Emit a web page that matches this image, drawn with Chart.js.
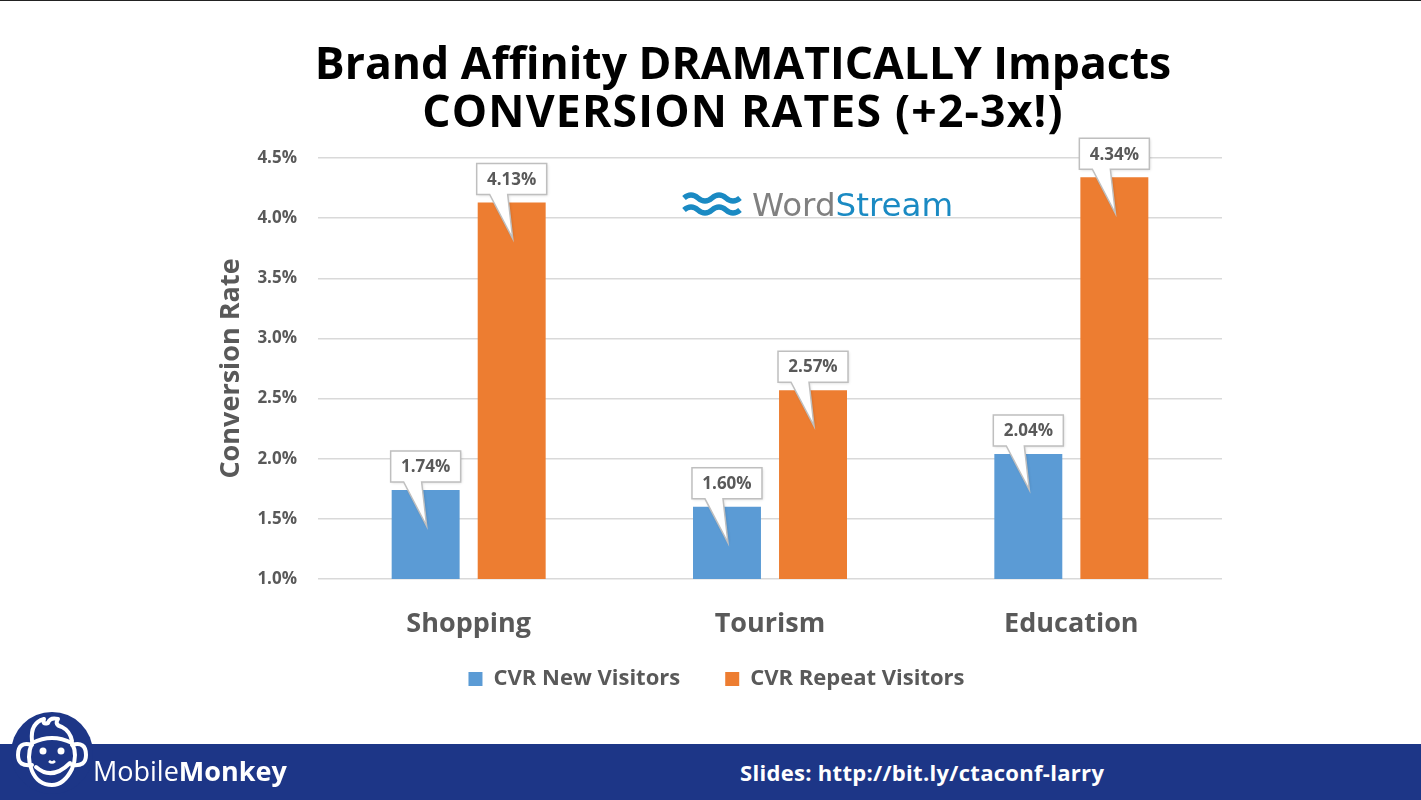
<!DOCTYPE html>
<html>
<head>
<meta charset="utf-8">
<script src="https://cdn.jsdelivr.net/npm/chart.js@4"></script>
<style>
  html, body { margin: 0; padding: 0; background: #fff; }
  #wrap { position: relative; width: 1421px; height: 800px; overflow: hidden; background: #fff; border-top: 1px solid #222; box-sizing: border-box; }
  #chartBox { position: absolute; left: 0; top: 0; width: 1421px; height: 743px; }
  #title { position: absolute; left: 0; top: 37px; width: 1486px; text-align: center;
           font-family: "Open Sans", sans-serif; font-weight: 700; font-size: 44.5px; line-height: 48px; color: #000; }
  #title .l2 { letter-spacing: 1.2px; }
  #ws { position: absolute; left: 682px; top: 186px; height: 36px; display: flex; align-items: center; }
  #ws .txt { font-family: "DejaVu Sans", sans-serif; font-size: 32.5px; margin-left: 10px; letter-spacing: 0px; }
  #footer { position: absolute; left: 0; top: 743px; width: 1421px; height: 57px; background: #1d3687; }
  #mm { position: absolute; left: 93px; top: 752px; font-family: "Open Sans", sans-serif; font-size: 27px; color: #fff; line-height: 36px; }
  #slides { position: absolute; left: 740px; top: 754px; font-family: "Open Sans", sans-serif; font-weight: 700; font-size: 22px; color: #fff; line-height: 34px; letter-spacing: 0.3px; }
  #monkey { position: absolute; left: 10px; top: 710px; }
</style>
</head>
<body>
<div id="wrap">
  <div id="chartBox"><canvas id="c" width="1421" height="743"></canvas></div>
  <div id="title">Brand Affinity DRAMATICALLY Impacts<br><span class="l2">CONVERSION RATES (+2-3x!)</span></div>
  <div id="ws">
    <svg width="60" height="28" viewBox="0 0 60 28">
      <path d="M2 7 Q9 1 16 7 T30 7 T44 7 T58 7" fill="none" stroke="#1a8ac3" stroke-width="5.5" stroke-linecap="butt"/>
      <path d="M2 19 Q9 13 16 19 T30 19 T44 19 T58 19" fill="none" stroke="#1a8ac3" stroke-width="5.5" stroke-linecap="butt"/>
    </svg>
    <span class="txt"><span style="color:#808080">Word</span><span style="color:#1a8ac3">Stream</span></span>
  </div>
  <div id="footer"></div>
  <svg id="monkey" width="84" height="84" viewBox="0 0 84 84">
    <circle cx="42" cy="42" r="41" fill="#1d3687"/>
    <g fill="none" stroke="#fff" stroke-width="4" stroke-linecap="round" stroke-linejoin="round">
      <path d="M22 30 Q20 12 34 8 Q32 14 38 12 Q40 6 48 8 Q44 14 52 16 Q60 20 62 30"/>
      <path d="M22 34 Q8 30 8 44 Q8 56 22 54"/>
      <path d="M62 34 Q76 30 76 44 Q76 56 62 54"/>
      <path d="M22 32 Q42 22 62 32 Q68 44 62 58 Q54 74 42 74 Q28 74 22 60 Q16 46 22 32 Z"/>
      <path d="M26 56 Q42 70 60 52"/>
    </g>
    <circle cx="33" cy="40" r="3.5" fill="#fff"/>
    <circle cx="51" cy="40" r="3.5" fill="#fff"/>
    <path d="M39 50 Q42 53 45 50" fill="none" stroke="#fff" stroke-width="2.5"/>
  </svg>
  <div id="mm"><span style="font-weight:400">Mobile</span><span style="font-weight:700">Monkey</span></div>
  <div id="slides">Slides: http://bit.ly/ctaconf-larry</div>
</div>
<script>
const categories = ['Shopping', 'Tourism', 'Education'];
const seriesNames = ['CVR New Visitors', 'CVR Repeat Visitors'];
const newVisitors = [1.74, 1.60, 2.04];
const repeatVisitors = [4.13, 2.57, 4.34];
const yMin = 1.0, yMax = 4.5, yStep = 0.5;
const axisTitle = 'Conversion Rate';

const GRAY = '#595959';
const FONT = '"Open Sans", sans-serif';

const calloutPlugin = {
  id: 'callouts',
  afterDatasetsDraw(chart) {
    const ctx = chart.ctx;
    ctx.save();
    chart.data.datasets.forEach((ds, di) => {
      const meta = chart.getDatasetMeta(di);
      meta.data.forEach((bar, i) => {
        const cx = bar.x, top = bar.y;
        const w = 70, h = 31;
        const L = cx - w / 2, R = cx + w / 2, B = top - 8, T = B - h;
        const tipY = top + 36;
        ctx.beginPath();
        ctx.moveTo(L, T);
        ctx.lineTo(R, T);
        ctx.lineTo(R, B);
        ctx.lineTo(cx - 4, B);
        ctx.lineTo(cx + 1, tipY);
        ctx.lineTo(cx - 22, B);
        ctx.lineTo(L, B);
        ctx.closePath();
        ctx.shadowColor = 'rgba(0,0,0,0.15)';
        ctx.shadowBlur = 3;
        ctx.shadowOffsetX = 1;
        ctx.shadowOffsetY = 1;
        ctx.fillStyle = '#ffffff';
        ctx.fill();
        ctx.shadowColor = 'transparent';
        ctx.lineWidth = 1.5;
        ctx.strokeStyle = '#bfbfbf';
        ctx.stroke();
        ctx.fillStyle = GRAY;
        ctx.font = '700 17px ' + FONT;
        ctx.textAlign = 'center';
        ctx.textBaseline = 'middle';
        ctx.fillText(ds.data[i].toFixed(2) + '%', cx, (T + B) / 2 + 1);
      });
    });
    ctx.restore();
  }
};

// Lift the legend so it sits right under the category labels
const legendLift = {
  id: 'legendLift',
  afterLayout(chart) {
    const lg = chart.legend;
    if (lg) { lg.top -= 26; lg.bottom -= 26; }
  }
};

new Chart(document.getElementById('c'), {
  type: 'bar',
  data: {
    labels: categories,
    datasets: [
      { label: seriesNames[0], data: newVisitors, backgroundColor: '#5b9bd5', categoryPercentage: 0.571, barPercentage: 0.79 },
      { label: seriesNames[1], data: repeatVisitors, backgroundColor: '#ed7d31', categoryPercentage: 0.571, barPercentage: 0.79 }
    ]
  },
  options: {
    responsive: false,
    animation: false,
    devicePixelRatio: 1,
    layout: { padding: { left: 211, right: 199, top: 157, bottom: 18 } },
    plugins: {
      title: { display: false },
      tooltip: { enabled: false },
      legend: {
        position: 'bottom',
        labels: {
          boxWidth: 14, boxHeight: 14, padding: 45,
          color: GRAY,
          font: { family: FONT, size: 22, weight: '700' }
        }
      }
    },
    scales: {
      x: {
        grid: { display: false },
        border: { display: false },
        ticks: { color: GRAY, padding: 21, font: { family: FONT, size: 27, weight: '700' } },
        afterFit(scale) { scale.height = 70; }
      },
      y: {
        min: yMin, max: yMax,
        border: { display: false },
        grid: { color: '#d9d9d9', lineWidth: 1.5, drawTicks: false },
        ticks: {
          stepSize: yStep, color: GRAY, padding: 21,
          font: { family: FONT, size: 17, weight: '700' },
          callback: v => v.toFixed(1) + '%'
        },
        title: { display: true, text: axisTitle, color: GRAY, font: { family: FONT, size: 27, weight: '700' } },
        afterFit(scale) { scale.width = 107; }
      }
    }
  },
  plugins: [calloutPlugin, legendLift]
});
</script>
</body>
</html>
